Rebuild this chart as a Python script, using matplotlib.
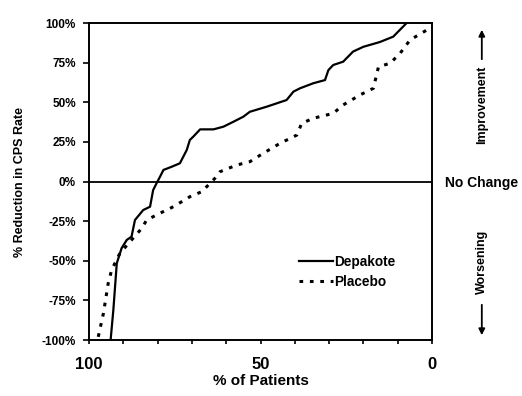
import matplotlib
matplotlib.use('Agg')
import matplotlib.pyplot as plt

# Depakote curve: % of patients vs % reduction
depakote_pct = [93.7, 92.9, 91.9, 90.5, 89.0, 87.6, 86.6, 84.2, 82.2, 81.3, 80.3, 79.3,
                78.3, 75.9, 73.5, 71.5, 70.6, 69.6, 67.6, 63.7, 60.8, 57.9, 55.0, 53.1,
                48.2, 45.3, 42.4, 40.4, 38.5, 34.6, 31.2, 30.2, 28.8, 25.9, 23.0, 20.0,
                15.2, 11.3, 7.4]
depakote_red = [-100, -81, -51.6, -42.1, -36.9, -34.8, -24.3, -18, -15.9, -5.4, -1.1, 3.0,
                7.3, 9.3, 11.5, 19.9, 26.2, 28.3, 32.9, 32.9, 34.6, 37.7, 40.9, 44,
                47.2, 49.3, 51.4, 56.7, 58.8, 62, 64, 70.3, 73.5, 75.6, 82, 85,
                88, 91.4, 100]

# Placebo curve
placebo_pct = [97.3, 95.8, 94.4, 93.4, 91.0, 87.6, 84.6, 83.2, 79.3, 75.4, 70.6, 67.1,
               65.2, 63.3, 61.8, 56.9, 53.1, 49.2, 44.3, 39.4, 38.0, 34.6, 28.8, 25.9,
               21.0, 17.1, 15.6, 12.2, 9.3, 6.4, 1.5]
placebo_red = [-98, -83.2, -64.2, -55.8, -45.3, -36.9, -29.5, -24.3, -20, -15.9, -9.6, -6.4,
               -2.2, 2.0, 6.2, 10.4, 12.5, 17.8, 24.1, 29.3, 36.7, 39.9, 43, 48.3,
               54.6, 58.8, 72.4, 74.6, 80.9, 89.3, 95.6]

y_ticks = [100, 75, 50, 25, 0, -25, -50, -75, -100]
y_tick_labels = ['100%', '75%', '50%', '25%', '0%', '-25%', '-50%', '-75%', '-100%']
x_ticks = [100, 50, 0]
x_tick_labels = ['100', '50', '0']

plt.rcParams['font.family'] = ['Liberation Sans', 'DejaVu Sans']

fig = plt.figure(figsize=(5.22, 3.96), dpi=100)
ax = fig.add_axes([0.1705, 0.1414, 0.6571, 0.8005])

ax.plot(depakote_pct, depakote_red, color='black', lw=1.6, label='Depakote')
ax.plot(placebo_pct, placebo_red, color='black', lw=2.2, linestyle=(0, (1.2, 2.2)),
        label='Placebo')
ax.axhline(0, color='black', lw=1.3)

ax.set_xlim(100, 0)
ax.set_ylim(-100, 100)
ax.set_yticks(y_ticks)
ax.set_yticklabels(y_tick_labels, fontsize=8.5, fontweight='bold')
ax.set_xticks(x_ticks)
ax.set_xticklabels(x_tick_labels, fontsize=12, fontweight='bold')
ax.set_xticks(range(0, 101, 10), minor=True)
ax.tick_params(axis='y', direction='out', length=4.5, width=1.2, pad=5)
ax.tick_params(axis='x', which='both', direction='out', length=3, width=1.2, pad=9)
for s in ax.spines.values():
    s.set_linewidth(1.4)

ax.set_xlabel('% of Patients', fontsize=11, fontweight='bold', labelpad=2)
ax.set_ylabel('% Reduction in CPS Rate', fontsize=9, fontweight='bold', labelpad=11)

leg = ax.legend(loc='center left', bbox_to_anchor=(0.612, 0.215), frameon=False,
                handlelength=2.5, handletextpad=0.1, labelspacing=0.45, borderpad=0,
                borderaxespad=0, prop={'weight': 'bold', 'size': 9.8})

# right side annotations
fig.text(0.923, 1 - 183 / 396, 'No Change', fontsize=10, fontweight='bold',
         ha='center', va='center')
fig.text(0.923, 1 - 105 / 396, 'Improvement', fontsize=9, fontweight='bold',
         rotation=90, ha='center', va='center')
fig.text(0.923, 1 - 262 / 396, 'Worsening', fontsize=9, fontweight='bold',
         rotation=90, ha='center', va='center')
fig.patches.append(matplotlib.patches.FancyArrowPatch(
    (0.923, 1 - 62 / 396), (0.923, 1 - 27 / 396), transform=fig.transFigure,
    arrowstyle='-|>', mutation_scale=9, color='black', lw=1.3))
fig.patches.append(matplotlib.patches.FancyArrowPatch(
    (0.923, 1 - 302 / 396), (0.923, 1 - 338 / 396), transform=fig.transFigure,
    arrowstyle='-|>', mutation_scale=9, color='black', lw=1.3))

plt.savefig('out.png', dpi=100)
plt.close()
